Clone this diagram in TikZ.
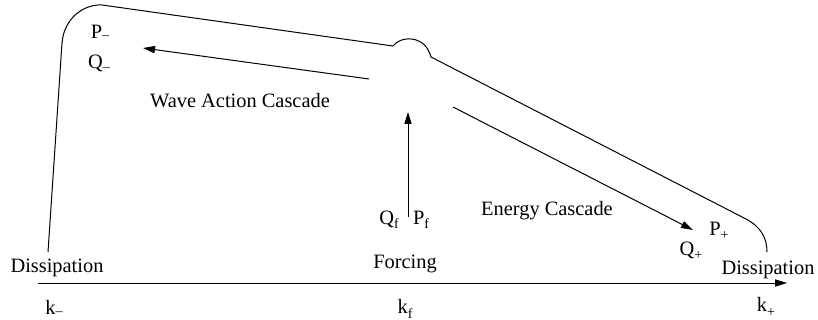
\documentclass[tikz,border=0pt]{standalone}
\usepackage{fontspec}
\setmainfont{Liberation Serif}
\usetikzlibrary{arrows.meta}
\newcommand\lowsub[2][-2.2pt]{\raisebox{#1}{\fontsize{7}{8}\selectfont #2}}
\begin{document}
\begin{tikzpicture}[x=0.5pt,y=-0.5pt, line width=0.5pt,
  tip/.style={-{Triangle[length=6pt,width=3.6pt]}},
  lbl/.style={font=\fontsize{10.2}{12}\selectfont, inner sep=0pt}]
\useasboundingbox (0,0) rectangle (818,320);
% coordinates
\coordinate (axL) at (38,283);
\coordinate (axR) at (787,283);
\coordinate (cL) at (48,252);
\coordinate (cLt) at (62,43);
\coordinate (cTop) at (102,5);
\coordinate (bA) at (393,46);
\coordinate (bB) at (431,57);
\coordinate (cRt) at (746,219);
\coordinate (cR) at (767,252);
\coordinate (waS) at (369,79);
\coordinate (waE) at (143,48);
\coordinate (ecS) at (453,107);
\coordinate (ecE) at (693,230);
\coordinate (fS) at (408,217);
\coordinate (fE) at (408,112);
% outline
\draw (cL) -- (cLt) .. controls (64,18) and (84,4) .. (cTop) -- (bA)
  .. controls (400,36) and (425,34) .. (bB) -- (cRt)
  .. controls (761,227) and (767,238) .. (cR);
% arrows
\draw[tip] (axL) -- (axR);
\draw[tip] (waS) -- (waE);
\draw[tip] (ecS) -- (ecE);
\draw[tip] (fS) -- (fE);
% labels
\node[lbl] (pm) at (100,32) {P\lowsub[-0.5pt]{–}};
\node[lbl] (qm) at (99,63) {Q\lowsub[-1.5pt]{–}};
\node[lbl] (wac) at (240,101) {Wave Action Cascade};
\node[lbl] (qf) at (389,220) {Q\lowsub{f}};
\node[lbl] (pf) at (421,220) {P\lowsub{f}};
\node[lbl] (ec) at (547,211) {Energy Cascade};
\node[lbl] (pp) at (719,231) {P\lowsub{+}};
\node[lbl] (qp) at (691,251) {Q\lowsub{+}};
\node[lbl] (dl) at (57,268) {Dissipation};
\node[lbl] (fo) at (405,264) {Forcing};
\node[lbl] (dr) at (768,270) {Dissipation};
\node[lbl] (km) at (54,308) {k\lowsub[-0.5pt]{–}};
\node[lbl] (kf) at (405,309) {k\lowsub{f}};
\node[lbl] (kp) at (766,307) {k\lowsub{+}};
\end{tikzpicture}
\end{document}
